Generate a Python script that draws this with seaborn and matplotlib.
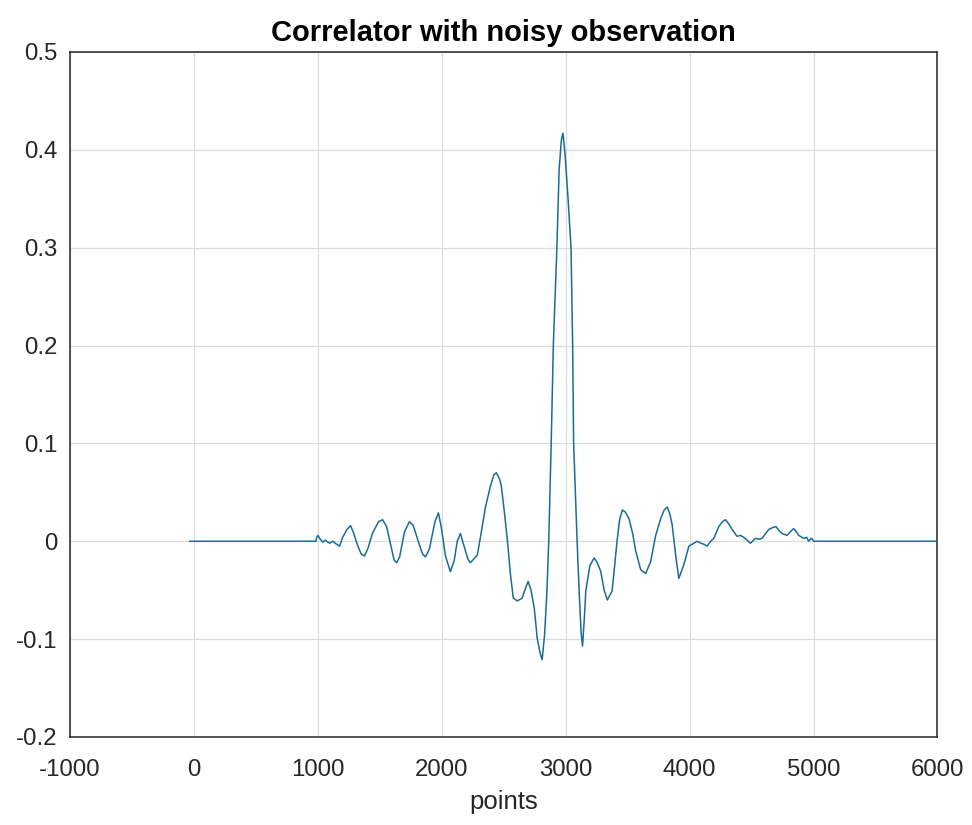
import matplotlib
matplotlib.use("Agg")
import matplotlib.pyplot as plt
import seaborn as sns
import pandas as pd

# Correlator output sampled along the lag axis (points) and its value
lags = [
    -35, 985, 988, 1000, 1020, 1039, 1060, 1095, 1120, 1151, 1176, 1200, 1235,
    1264, 1290, 1320, 1350, 1377, 1405, 1440, 1490, 1522, 1555, 1590, 1615,
    1635, 1660, 1700, 1739, 1770, 1810, 1845, 1868, 1900, 1945, 1973, 1995,
    2030, 2069, 2100, 2125, 2150, 2180, 2210, 2230, 2260, 2287, 2320, 2351,
    2390, 2420, 2440, 2465, 2480, 2505, 2528, 2555, 2577, 2609, 2649, 2675,
    2697, 2720, 2746, 2770, 2795, 2810, 2830, 2849, 2863, 2883, 2900, 2929,
    2947, 2965, 2978, 2995, 3019, 3043, 3056, 3064, 3092, 3108, 3125, 3136,
    3152, 3162, 3195, 3229, 3255, 3283, 3310, 3336, 3374, 3395, 3414, 3435,
    3457, 3480, 3511, 3540, 3565, 3605, 3645, 3685, 3726, 3766, 3795, 3819,
    3840, 3859, 3887, 3913, 3953, 3994, 4034, 4061, 4090, 4115, 4141, 4170,
    4195, 4235, 4265, 4289, 4315, 4343, 4383, 4410, 4437, 4465, 4491, 4531,
    4560, 4584, 4638, 4670, 4697, 4720, 4745, 4785, 4815, 4839, 4860, 4880,
    4920, 4945, 4960, 4980, 4992, 5000, 6000,
]
corr = [
    0.0, 0.0, 0.003, 0.006, 0.002, -0.001, 0.001, -0.002, 0.0, -0.003, -0.005,
    0.004, 0.012, 0.016, 0.008, -0.004, -0.013, -0.015, -0.007, 0.008, 0.020,
    0.022, 0.015, -0.005, -0.019, -0.022, -0.016, 0.010, 0.020, 0.016, 0.000,
    -0.013, -0.016, -0.008, 0.020, 0.029, 0.015, -0.015, -0.031, -0.020,
    0.000, 0.008, -0.005, -0.018, -0.022, -0.018, -0.014, 0.010, 0.034, 0.055,
    0.068, 0.070, 0.064, 0.057, 0.030, 0.003, -0.035, -0.058, -0.061, -0.058,
    -0.048, -0.041, -0.050, -0.068, -0.099, -0.115, -0.121, -0.095, -0.050,
    0.0, 0.100, 0.200, 0.300, 0.380, 0.410, 0.417, 0.395, 0.350, 0.300, 0.200,
    0.100, 0.0, -0.050, -0.095, -0.107, -0.075, -0.051, -0.025, -0.017,
    -0.022, -0.031, -0.050, -0.060, -0.051, -0.025, 0.0, 0.022, 0.032, 0.030,
    0.023, 0.008, -0.010, -0.029, -0.033, -0.021, 0.006, 0.023, 0.032, 0.035,
    0.028, 0.017, -0.014, -0.038, -0.024, -0.005, -0.002, 0.0, -0.002, -0.003,
    -0.005, 0.000, 0.003, 0.015, 0.020, 0.022, 0.018, 0.012, 0.005, 0.006,
    0.004, 0.001, -0.002, 0.003, 0.002, 0.003, 0.012, 0.014, 0.015, 0.011,
    0.008, 0.006, 0.010, 0.013, 0.010, 0.006, 0.003, 0.004, 0.0, 0.003, 0.002,
    0.0, 0.0,
]

x_ticks = [-1000, 0, 1000, 2000, 3000, 4000, 5000, 6000]
y_ticks = [-0.2, -0.1, 0, 0.1, 0.2, 0.3, 0.4, 0.5]
y_tick_labels = ["-0.2", "-0.1", "0", "0.1", "0.2", "0.3", "0.4", "0.5"]

sns.set_theme(style="white")
plt.rcParams["font.family"] = ["Liberation Sans", "DejaVu Sans"]

ink = "#262626"
fig = plt.figure(figsize=(9.72, 8.25), dpi=100)
ax = fig.add_axes([0.072, 0.1067, 0.8925, 0.8303])

df = pd.DataFrame({"points": lags, "value": corr})
sns.lineplot(data=df, x="points", y="value", ax=ax, color="#1b6c95",
             linewidth=1.1, estimator=None, zorder=3)

ax.set_xlim(-1000, 6000)
ax.set_ylim(-0.2, 0.5)
ax.set_xticks(x_ticks)
ax.set_xticklabels([str(t) for t in x_ticks])
ax.set_yticks(y_ticks)
ax.set_yticklabels(y_tick_labels)

ax.grid(True, color="#dcdcdc", linewidth=0.9, zorder=0)
ax.set_axisbelow(True)
for side in ax.spines.values():
    side.set_visible(True)
    side.set_color(ink)
    side.set_linewidth(1.1)

ax.tick_params(axis="both", direction="in", length=6, width=1.0, color=ink,
               labelcolor=ink, labelsize=17.3, top=False, right=False)
ax.tick_params(axis="x", pad=16)
ax.tick_params(axis="y", pad=9)

ax.set_xlabel("points", fontsize=18.5, color=ink, labelpad=6)
ax.set_ylabel("")
ax.set_title("Correlator with noisy observation", fontsize=21,
             fontweight="bold", color="black", pad=8)

fig.savefig("out.png", dpi=100, facecolor="white")
